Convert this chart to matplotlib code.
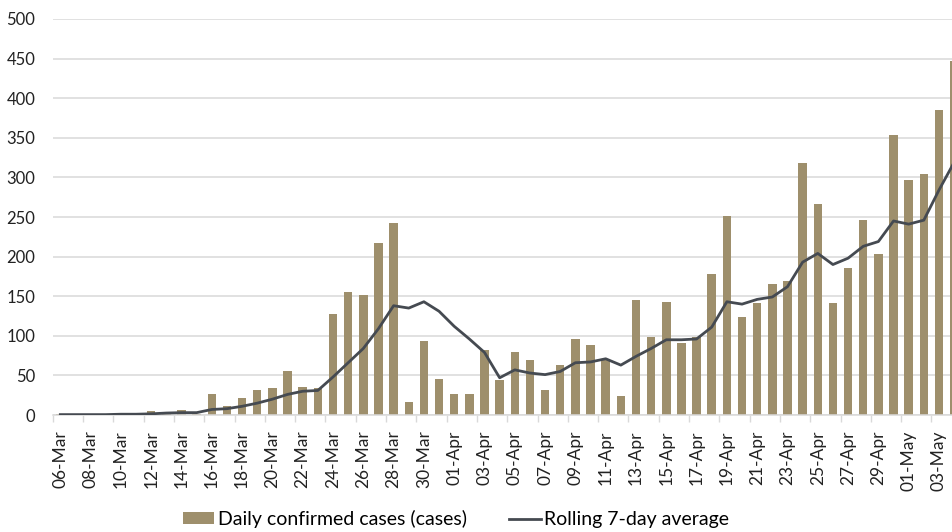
import matplotlib
matplotlib.use("Agg")
import matplotlib.pyplot as plt
import pandas as pd

plt.rcParams['font.family'] = ['Lato', 'DejaVu Sans']

# categories: one per day, 06-Mar .. 04-May
dates = pd.date_range("2020-03-06", "2020-05-04", freq="D")
date_labels = [d.strftime("%d-%b") for d in dates]

daily_cases = [
    1, 0, 0, 0, 3, 0, 5, 2, 6, 1, 27, 11, 22, 31, 34, 55, 35, 34, 128, 155,
    152, 217, 243, 17, 93, 46,                                  # March
    27, 27, 82, 44, 80, 70, 31, 63, 96, 88, 70, 24, 145, 99, 143, 91, 98,
    178, 251, 124, 142, 165, 169, 318, 267, 141, 185, 246, 203, 354,  # April
    297, 304, 385, 447,                                         # May
]
rolling_avg = [
    0.5, 0.5, 0.5, 0.5, 1, 1, 1.5, 2.5, 3, 3, 7, 8, 11, 15, 20, 26, 30, 31,
    48, 66, 84, 109, 138, 135, 143, 131,
    112, 96, 79, 47, 57, 53, 51, 55, 66, 67, 71, 63, 74, 84, 95, 95, 96,
    111, 143, 140, 146, 149, 162, 193, 204, 190, 198, 213, 219, 245,
    241, 246, 284, 319,
]
y_ticks = [0, 50, 100, 150, 200, 250, 300, 350, 400, 450, 500]

BAR_COLOR = "#9e8f6c"
LINE_COLOR = "#454a51"
GRID_COLOR = "#d9d9d9"

fig = plt.figure(figsize=(9.52, 5.32), dpi=100)
ax = fig.add_axes([0.0554, 0.2199, 1 - 0.0554, 0.9643 - 0.2199])

x = list(range(len(dates)))
bars = ax.bar(x, daily_cases, width=0.56, color=BAR_COLOR, zorder=2,
              label="Daily confirmed cases (cases)")
line, = ax.plot(x, rolling_avg, color=LINE_COLOR, lw=2, zorder=3,
                label="Rolling 7-day average")

ax.set_ylim(0, 500)
ax.set_xlim(-0.5, 58.86)
ax.set_yticks(y_ticks)
ax.yaxis.grid(True, color=GRID_COLOR, lw=1.1, zorder=0)
ax.set_axisbelow(True)
for s in ["top", "right", "left"]:
    ax.spines[s].set_visible(False)
ax.spines["bottom"].set_color(GRID_COLOR)
ax.spines["bottom"].set_linewidth(1.1)

ax.tick_params(axis="y", length=0, labelsize=12, colors="#222222", pad=12.5)
# labels every other day at category centres, tick marks at category edges
ax.set_xticks(x[::2])
ax.set_xticklabels(date_labels[::2], rotation=90, fontsize=12.5, color="#222222")
ax.tick_params(axis="x", length=0, pad=11)
ax.set_xticks([i - 0.5 for i in x[::2]], minor=True)
ax.tick_params(axis="x", which="minor", length=5, width=1, color=GRID_COLOR)

fig.legend(handles=[bars, line], loc="center", bbox_to_anchor=(0.479, 0.0244),
           ncol=2, frameon=False, fontsize=14, handlelength=1.6,
           handleheight=0.6, handletextpad=0.2, columnspacing=2.2)

fig.savefig("out.png", dpi=100)
